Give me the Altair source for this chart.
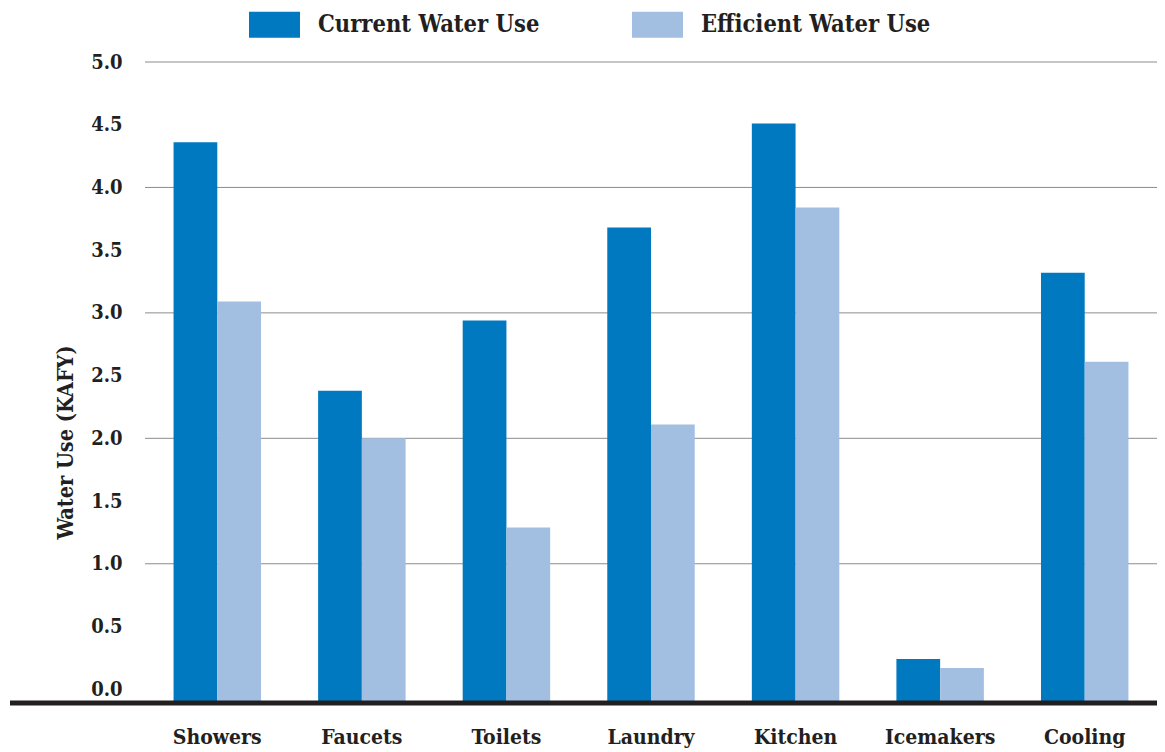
import altair as alt
import pandas as pd

categories = ["Showers", "Faucets", "Toilets", "Laundry", "Kitchen", "Icemakers", "Cooling"]
current_use = [4.36, 2.38, 2.94, 3.68, 4.51, 0.24, 3.32]
efficient_use = [3.09, 2.00, 1.29, 2.11, 3.84, 0.17, 2.61]
series_names = ["Current Water Use", "Efficient Water Use"]
y_ticks = [0.0, 0.5, 1.0, 1.5, 2.0, 2.5, 3.0, 3.5, 4.0, 4.5, 5.0]
grid_values = [1.0, 2.0, 3.0, 4.0, 5.0]

rows = []
for c, cur, eff in zip(categories, current_use, efficient_use):
    rows.append({"category": c, "series": series_names[0], "value": cur})
    rows.append({"category": c, "series": series_names[1], "value": eff})
df = pd.DataFrame(rows)
grid_df = pd.DataFrame({"value": grid_values})

FONT = "DejaVu Serif Condensed, Liberation Serif, serif"
TXT = "#231f20"
YMIN = -0.11
W, H = 1012, 641

yscale = alt.Scale(domain=[YMIN, 5.0], nice=False, zero=False)
y_axis = alt.Axis(values=y_ticks, format=".1f", grid=False, domain=False, ticks=False,
                  labelFont=FONT, labelFontSize=20, labelFontWeight="bold",
                  labelColor=TXT, labelPadding=23,
                  title="Water Use (KAFY)", titleFont=FONT, titleFontSize=21.5,
                  titleFontWeight="bold", titleColor=TXT, titleAngle=-90,
                  titleX=-79, titleY=380, titleAlign="center", titleBaseline="middle")

grid = alt.Chart(grid_df).mark_rule(color="#8c8c8c", strokeWidth=1).encode(
    y=alt.Y("value:Q", scale=yscale, axis=y_axis)
)

bars = alt.Chart(df).mark_bar().encode(
    x=alt.X("category:N", sort=categories,
            scale=alt.Scale(paddingInner=0.395, paddingOuter=0.1975),
            axis=alt.Axis(title=None, domain=False, ticks=False, labelAngle=0,
                          labelFont=FONT, labelFontSize=21, labelFontWeight="bold",
                          labelColor=TXT, labelPadding=23, labelBaseline="top")),
    xOffset=alt.XOffset("series:N", sort=series_names),
    y=alt.Y("value:Q", scale=yscale, axis=y_axis),
    y2=alt.datum(YMIN),
    color=alt.Color("series:N", sort=series_names,
                    scale=alt.Scale(domain=series_names, range=["#0079C1", "#A2BFE2"]),
                    legend=alt.Legend(title=None, orient="none", legendX=104, legendY=-63,
                                      direction="horizontal",
                                      symbolType="M-1,-0.51L1,-0.51L1,0.51L-1,0.51Z",
                                      symbolSize=2601, symbolStrokeWidth=0,
                                      labelFont=FONT, labelFontSize=23.5, labelFontWeight="bold",
                                      labelColor=TXT, labelOffset=18, columnPadding=92,
                                      labelLimit=400)),
)

base_line = alt.Chart(pd.DataFrame({"value": [YMIN]})).mark_rule(color="#231f20", strokeWidth=5).encode(
    y=alt.Y("value:Q", scale=yscale, axis=y_axis),
    x=alt.value(-135),
    x2=alt.value(W),
)

chart = alt.layer(grid, bars, base_line).properties(
    width=W, height=H,
    autosize=alt.AutoSizeParams(type="none"),
    padding={"left": 137, "top": 54, "right": 0, "bottom": 49},
).configure(background="white").configure_view(stroke=None)

chart.save("out.html", embed_options={"renderer": "svg", "actions": False})
